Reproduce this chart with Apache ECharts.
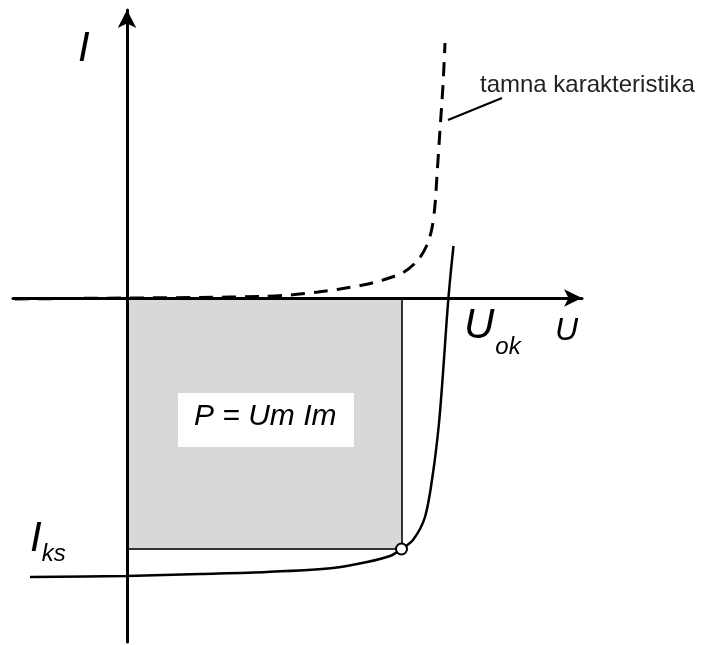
<!DOCTYPE html>
<html>
<head>
<meta charset="utf-8">
<script src="https://cdn.jsdelivr.net/npm/echarts@6/dist/echarts.min.js"></script>
<style>
  html, body { margin: 0; padding: 0; background: #fff; }
  #chart { width: 702px; height: 645px; }
</style>
</head>
<body>
<div id="chart"></div>
<script>
// osvjetljena karakteristika (U, I)
const lightU = [-9.7, 0, 7.3, 14, 20.6, 24, 26.3, 27.45, 28.6, 29.8, 30.6, 31.2, 31.6, 31.95, 32.15, 32.4, 32.65]
const lightI = [-27.9, -27.8, -27.6, -27.4, -27.0, -26.4, -25.8, -25.1, -24.2, -21.9, -17.5, -12.5, -7.5, -2.5, 0.1, 2.8, 5.2]
// tamna karakteristika (U, I)
const darkU = [-11.2, 0, 7.3, 13.3, 16.3, 19.1, 21.3, 23.6, 25.6, 27.7, 29.1, 30.0, 30.5, 30.8, 31.0, 31.3, 31.6, 31.8]
const darkI = [-0.1, 0, 0.05, 0.15, 0.3, 0.6, 0.9, 1.3, 1.8, 2.6, 3.8, 5.3, 7.0, 9.3, 12.3, 16.8, 21.3, 25.5]
// tocka maksimalne snage
const Um = 27.45
const Im = -25.1
// granice osi
const uRange = [-11.4, 45.5]
const iRange = [-34.4, 28.8]

const font = "'Liberation Sans', Arial, sans-serif"
const toPairs = (xs, ys) => xs.map((x, i) => [x, ys[i]])

const chart = echarts.init(document.getElementById('chart'))

const option = {
  animation: false,
  backgroundColor: '#fff',
  grid: { left: 13, right: 120, top: 10, bottom: 3 },
  xAxis: {
    type: 'value',
    min: uRange[0],
    max: uRange[1],
    z: 5,
    axisLine: {
      onZero: true,
      symbol: ['none', 'arrow'],
      symbolSize: [13, 18],
      lineStyle: { color: '#000', width: 3 }
    },
    axisTick: { show: false },
    axisLabel: { show: false },
    splitLine: { show: false }
  },
  yAxis: {
    type: 'value',
    min: iRange[0],
    max: iRange[1],
    z: 5,
    axisLine: {
      onZero: true,
      symbol: ['none', 'arrow'],
      symbolSize: [14, 18],
      lineStyle: { color: '#000', width: 3 }
    },
    axisTick: { show: false },
    axisLabel: { show: false },
    splitLine: { show: false }
  },
  series: [
    {
      name: 'P',
      type: 'line',
      data: [],
      silent: true,
      markArea: {
        silent: true,
        itemStyle: { color: '#d8d8d8' },
        data: [[{ coord: [0, 0] }, { coord: [Um, Im] }]]
      },
      markLine: {
        silent: true,
        symbol: 'none',
        label: { show: false },
        lineStyle: { color: '#333', width: 2, type: 'solid' },
        data: [
          [{ coord: [0, Im] }, { coord: [Um, Im] }],
          [{ coord: [Um, 0] }, { coord: [Um, Im] }]
        ]
      }
    },
    {
      name: 'svjetla karakteristika',
      type: 'line',
      data: toPairs(lightU, lightI),
      smooth: 0.3,
      symbol: 'none',
      z: 3,
      lineStyle: { color: '#000', width: 2.5 }
    },
    {
      name: 'tamna karakteristika',
      type: 'line',
      data: toPairs(darkU, darkI),
      smooth: 0.3,
      symbol: 'none',
      z: 3,
      lineStyle: { color: '#000', width: 3, type: [14, 9] },
      markLine: {
        silent: true,
        symbol: 'none',
        label: { show: false },
        lineStyle: { color: '#000', width: 2, type: 'solid' },
        data: [[{ coord: [32.1, 17.8] }, { coord: [37.5, 20] }]]
      }
    },
    {
      name: 'Pm',
      type: 'scatter',
      data: [[Um, Im]],
      symbol: 'circle',
      symbolSize: 11,
      z: 6,
      itemStyle: { color: '#fff', opacity: 1, borderColor: '#000', borderWidth: 2 }
    }
  ],
  graphic: [
    {
      type: 'text', left: 78, top: 28, z: 10,
      style: { text: 'I', font: 'italic 42px ' + font, fill: '#000' }
    },
    {
      type: 'text', left: 555, top: 315, z: 10,
      style: { text: 'U', font: 'italic 32px ' + font, fill: '#000' }
    },
    {
      type: 'text', left: 464, top: 305, z: 10,
      style: {
        text: '{a|U}{b|ok}',
        rich: {
          a: { font: 'italic 42px ' + font, fill: '#000', verticalAlign: 'top' },
          b: { font: 'italic 24px ' + font, fill: '#000', padding: [30, 0, 0, 1] }
        }
      }
    },
    {
      type: 'text', left: 30, top: 518, z: 10,
      style: {
        text: '{a|I}{b|ks}',
        rich: {
          a: { font: 'italic 42px ' + font, fill: '#000' },
          b: { font: 'italic 24px ' + font, fill: '#000', padding: [30, 0, 0, 0] }
        }
      }
    },
    {
      type: 'text', left: 480, top: 73, z: 10,
      style: { text: 'tamna karakteristika', font: '24px ' + font, fill: '#222' }
    },
    {
      type: 'rect', z: 8,
      shape: { x: 178, y: 393, width: 176, height: 54 },
      style: { fill: '#fff' }
    },
    {
      type: 'text', left: 194, top: 402, z: 10,
      style: { text: 'P = Um Im', font: 'italic 30px ' + font, fill: '#000' }
    }
  ]
}

chart.setOption(option)
</script>
</body>
</html>
